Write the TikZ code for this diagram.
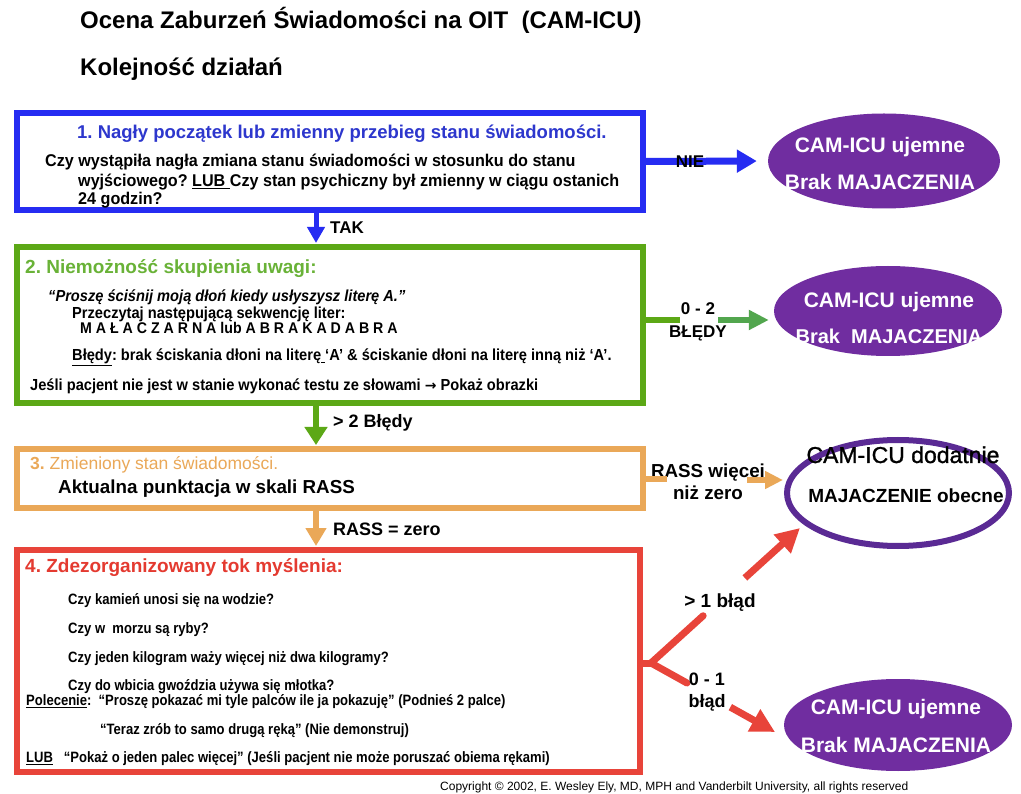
\documentclass[tikz,border=0pt]{standalone}
\usepackage{fontspec}
\setmainfont{Liberation Sans}
\newfontfamily\nara[FakeStretch=0.95]{Liberation Sans}
\newfontfamily\narb[FakeStretch=0.915]{Liberation Sans}
\newfontfamily\narc[FakeStretch=0.87]{Liberation Sans}
\newfontfamily\semib[FakeBold=1.2]{Liberation Sans}
\newfontfamily\symb{DejaVu Sans}
\usetikzlibrary{arrows.meta,shapes.geometric,calc}
\frenchspacing

\definecolor{cblue}{RGB}{38,44,242}
\definecolor{cbluetext}{RGB}{45,55,205}
\definecolor{cgreen}{RGB}{92,168,22}
\definecolor{cgreentext}{RGB}{105,178,55}
\definecolor{cgreenarr}{RGB}{82,166,78}
\definecolor{corange}{RGB}{234,168,88}
\definecolor{cred}{RGB}{232,68,58}
\definecolor{credtext}{RGB}{228,58,48}
\definecolor{cpurple}{RGB}{112,45,160}
\definecolor{cpurpleline}{RGB}{90,42,148}

\tikzset{
  box/.style={draw=#1, line width=6pt, inner sep=0pt, rectangle},
  txt/.style={anchor=base west, inner sep=0pt},
  ctxt/.style={anchor=base, inner sep=0pt},
  lbl/.style={inner sep=0pt, align=center, font=\bfseries\fontsize{17}{23}\selectfont},
  resultfill/.style={ellipse, fill=cpurple, draw=none, inner sep=0pt},
  resulttxt/.style={inner sep=0pt, align=center, text=white, font=\bfseries\fontsize{21}{37}\selectfont},
  head/.style={txt, font=\bfseries\fontsize{19}{22}\selectfont},
  body/.style={txt, font=\nara\bfseries\fontsize{17}{20}\selectfont},
  mid/.style={txt, font=\narb\bfseries\fontsize{16}{19}\selectfont},
  small/.style={txt, font=\narc\bfseries\fontsize{15}{18}\selectfont},
  flowlbl/.style={txt, font=\bfseries\fontsize{18}{21}\selectfont},
  flow/.style={line width=#1},
}

\begin{document}
\begin{tikzpicture}[x=1pt,y=-1pt]
\path[use as bounding box, fill=white] (0,0) rectangle (1021,794);

% title
\node[txt, font=\bfseries\fontsize{24}{28}\selectfont] (title) at (80,29) {Ocena Zaburzeń Świadomości na OIT~~(CAM-ICU)};
\node[txt, font=\bfseries\fontsize{24}{28}\selectfont] (subtitle) at (80,75.5) {Kolejność działań};

% the four steps
\node[box=cblue, minimum width=626pt, minimum height=97pt] (b1) at (330,161.5) {};
\node[box=cgreen, minimum width=626pt, minimum height=156pt] (b2) at (330,325) {};
\node[box=corange, minimum width=626pt, minimum height=59pt] (b3) at (330,478.5) {};
\node[box=cred, minimum width=623pt, minimum height=222pt] (b4) at (328.5,661) {};

% step 1
\node[head, text=cbluetext, font=\bfseries\fontsize{18.5}{22}\selectfont] (h1) at (77,138.5) {1. Nagły początek lub zmienny przebieg stanu świadomości.};
\node[body] (s1a) at (45,167) {Czy wystąpiła nagła zmiana stanu świadomości w stosunku do stanu};
\node[body] (s1b) at (78,187) {wyjściowego? \underline{LUB\ }Czy stan psychiczny był zmienny w ciągu ostanich};
\node[body] (s1c) at (78,205) {24 godzin?};

% step 2
\node[head, text=cgreentext] (h2) at (25,274) {2. Niemożność skupienia uwagi:};
\node[mid, font=\narb\bfseries\itshape\fontsize{16}{19}\selectfont] (s2a) at (48,301.8) {“Proszę ściśnij moją dłoń kiedy usłyszysz literę A.”};
\node[mid] (s2b) at (72,318.8) {Przeczytaj następującą sekwencję liter:};
\node[mid, font=\narb\bfseries\fontsize{15.5}{19}\selectfont] (s2c) at (80,333.8) {M A Ł A C Z A R N A lub A B R A K A D A B R A};
\node[mid] (s2d) at (72,360.8) {\underline{Błędy}: brak ściskania dłoni na literę\underline{\ }‘A’ \& ściskanie dłoni na literę inną niż ‘A’.};
\node[mid] (s2e) at (30,390.8) {Jeśli pacjent nie jest w stanie wykonać testu ze słowami {\symb\bfseries\fontsize{14}{19}\selectfont →} Pokaż obrazki};

% step 3
\node[txt, text=corange, font=\fontsize{17.5}{20}\selectfont] (h3) at (30,470) {\textbf{3.} Zmieniony stan świadomości.};
\node[txt, font=\bfseries\fontsize{18.8}{22}\selectfont] (s3a) at (58,493.5) {Aktualna punktacja w skali RASS};

% step 4
\node[head, text=credtext] (h4) at (25,572) {4. Zdezorganizowany tok myślenia:};
\node[small] (q1) at (68,604.4) {Czy kamień unosi się na wodzie?};
\node[small] (q2) at (68,633.4) {Czy w~~morzu są ryby?};
\node[small] (q3) at (68,662.4) {Czy jeden kilogram waży więcej niż dwa kilogramy?};
\node[small] (q4) at (68,690.4) {Czy do wbicia gwoździa używa się młotka?};
\node[small] (c1) at (26,705.4) {\underline{Polecenie}:~~“Proszę pokazać mi tyle palców ile ja pokazuję” (Podnieś 2 palce)};
\node[small] (c2) at (100,734.4) {“Teraz zrób to samo drugą ręką” (Nie demonstruj)};
\node[small] (c3) at (26,762.4) {\underline{LUB}~~~“Pokaż o jeden palec więcej” (Jeśli pacjent nie może poruszać obiema rękami)};

% outcomes
\node[resultfill, minimum width=232pt, minimum height=95pt] (e1) at (884,161) {};
\node[resulttxt] (e1t) at (880,163.5) {CAM-ICU ujemne\\Brak MAJACZENIA};
\node[resultfill, minimum width=228pt, minimum height=90pt] (e2) at (888,311) {};
\node[resulttxt, font=\bfseries\fontsize{21}{36}\selectfont] (e2t) at (889,318) {CAM-ICU ujemne\\{\fontsize{20}{36}\selectfont Brak~~MAJACZENIA}};
\node[ellipse, draw=cpurpleline, fill=white, line width=6pt, inner sep=0pt, minimum width=222pt, minimum height=106pt] (e3) at (898,493) {};
\node[ctxt, font=\semib\fontsize{23}{28}\selectfont] (e3a) at (903,463) {CAM-ICU dodatnie};
\node[ctxt, font=\bfseries\fontsize{19}{23}\selectfont] (e3b) at (906,502) {MAJACZENIE obecne};
\node[resultfill, minimum width=228pt, minimum height=92pt] (e4) at (898,725) {};
\node[resulttxt, font=\bfseries\fontsize{21}{38}\selectfont] (e4t) at (896,726) {CAM-ICU ujemne\\Brak MAJACZENIA};

% step to step
\draw[flow=5pt, cblue, -{Triangle[length=16pt,width=17pt]}] ($(b1.south)+(-14,0)$) -- ($(b2.north)+(-14,-1)$);
\node[flowlbl, font=\bfseries\fontsize{17}{20}\selectfont] (tak) at (330,234) {TAK};
\draw[flow=6pt, cgreen, -{Triangle[length=18pt,width=22pt]}] ($(b2.south)+(-14,0)$) -- ($(b3.north)+(-14,-1)$);
\node[flowlbl] (gt2) at (333,427.5) {> 2 Błędy};
\draw[flow=6pt, corange, -{Triangle[length=18pt,width=20pt]}] ($(b3.south)+(-14,0)$) -- ($(b4.north)+(-12.5,-1)$);
\node[flowlbl] (rz) at (333,535.5) {RASS = zero};

% step 1 -> negative
\draw[flow=7pt, cblue, -{Triangle[length=20pt,width=22pt]}, shorten >=11pt] (b1.east) -- (e1.west);
\node[ctxt, font=\bfseries\fontsize{17}{20}\selectfont] (nie) at (690,168) {NIE};

% step 2 -> negative
\node[lbl] (l2) at (698,321.5) {0 - 2\\BŁĘDY};
\coordinate (g1) at (680,320);
\coordinate (g2) at (718,320);
\draw[flow=6pt, cgreen] (b2.east |- g1) -- (g1);
\draw[flow=6pt, cgreenarr, -{Triangle[length=20pt,width=19pt]}, shorten >=5pt] (g2) -- (e2.west |- g2);

% step 3 -> positive
\node[lbl, font=\bfseries\fontsize{18.8}{22}\selectfont] (l3) at (708,481.5) {RASS więcej\\niż zero};
\coordinate (o1) at (667,479);
\coordinate (o2) at (747,480);
\draw[flow=6pt, corange] (b3.east |- o1) -- (o1);
\draw[flow=6pt, corange, -{Triangle[length=18pt,width=17pt]}, shorten >=1pt] (o2) -- (e3.west |- o2);

% step 4 -> both outcomes
\coordinate (f) at (651,663);
\coordinate (t1) at (800,528);
\coordinate (t2) at (775,732);
\draw[flow=7pt, cred] (b4.east |- f) -- (f);
\draw[flow=7pt, cred, line cap=round] (f) -- ($(f)!0.35!(t1)$);
\draw[flow=7pt, cred, -{Triangle[length=24pt,width=24pt]}] ($(f)!0.63!(t1)$) -- (t1);
\node[ctxt, font=\bfseries\fontsize{19}{22}\selectfont] (l4a) at (720,607) {> 1 błąd};
\draw[flow=7pt, cred, line cap=round] (f) -- ($(f)!0.29!(t2)$);
\draw[flow=7pt, cred, -{Triangle[length=24pt,width=24pt]}] ($(f)!0.64!(t2)$) -- (t2);
\node[lbl, font=\bfseries\fontsize{18}{22}\selectfont] (l4b) at (707,692) {0 - 1\\błąd};

% footer
\node[txt, font=\fontsize{12}{14}\selectfont] (copy) at (440,790) {Copyright © 2002, E. Wesley Ely, MD, MPH and Vanderbilt University, all rights reserved};
\end{tikzpicture}
\end{document}
